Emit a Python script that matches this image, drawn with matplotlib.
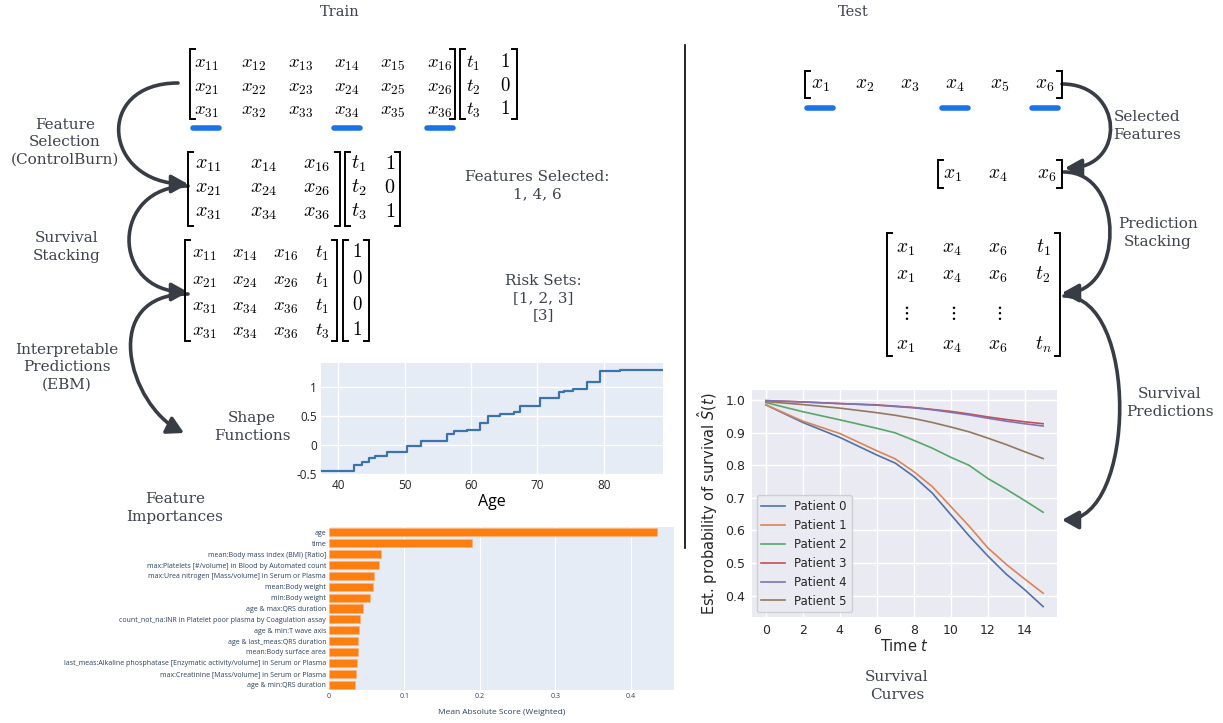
import matplotlib.pyplot as plt
from matplotlib.patches import FancyArrowPatch
from matplotlib.path import Path

W, H = 1223, 723

# ---------------- data ----------------
# train matrices
train_full = [["x_{11}", "x_{12}", "x_{13}", "x_{14}", "x_{15}", "x_{16}"],
              ["x_{21}", "x_{22}", "x_{23}", "x_{24}", "x_{25}", "x_{26}"],
              ["x_{31}", "x_{32}", "x_{33}", "x_{34}", "x_{35}", "x_{36}"]]
train_target = [["t_1", "1"], ["t_2", "0"], ["t_3", "1"]]
selected_cols = [0, 3, 5]
train_sel = [["x_{11}", "x_{14}", "x_{16}"],
             ["x_{21}", "x_{24}", "x_{26}"],
             ["x_{31}", "x_{34}", "x_{36}"]]
train_stack = [["x_{11}", "x_{14}", "x_{16}", "t_1"],
               ["x_{21}", "x_{24}", "x_{26}", "t_1"],
               ["x_{31}", "x_{34}", "x_{36}", "t_1"],
               ["x_{31}", "x_{34}", "x_{36}", "t_3"]]
train_stack_y = [["1"], ["0"], ["0"], ["1"]]

# test matrices
test_full = [["x_1", "x_2", "x_3", "x_4", "x_5", "x_6"]]
test_sel = [["x_1", "x_4", "x_6"]]
test_stack = [["x_1", "x_4", "x_6", "t_1"],
              ["x_1", "x_4", "x_6", "t_2"],
              [r"\vdots", r"\vdots", r"\vdots", ""],
              ["x_1", "x_4", "x_6", "t_n"]]

# shape function (age)
shape_age = [36.0, 42.4, 43.6, 44.6, 45.6, 47.4, 50.4, 52.4, 56.4, 57.4, 59.4, 61.4,
             62.5, 64.4, 66.4, 67.4, 70.4, 73.3, 74.0, 75.4, 77.4, 79.4, 82.4, 90.0]
shape_score = [-0.445, -0.347, -0.30, -0.22, -0.185, -0.127, -0.01, 0.07, 0.196, 0.243,
               0.26, 0.38, 0.50, 0.537, 0.566, 0.67, 0.81, 0.913, 0.93, 0.97, 1.087,
               1.29, 1.30, 1.30]

# feature importances
feat_names = ["age", "time", "mean:Body mass index (BMI) [Ratio]",
              "max:Platelets [#/volume] in Blood by Automated count",
              "max:Urea nitrogen [Mass/volume] in Serum or Plasma",
              "mean:Body weight", "min:Body weight", "age & max:QRS duration",
              "count_not_na:INR in Platelet poor plasma by Coagulation assay",
              "age & min:T wave axis", "age & last_meas:QRS duration",
              "mean:Body surface area",
              "last_meas:Alkaline phosphatase [Enzymatic activity/volume] in Serum or Plasma",
              "max:Creatinine [Mass/volume] in Serum or Plasma", "age & min:QRS duration"]
feat_imp = [0.434, 0.190, 0.0684, 0.066, 0.060, 0.058, 0.0543, 0.0446, 0.0415,
            0.0402, 0.0389, 0.038, 0.0371, 0.0358, 0.0349]

# survival curves
surv_t = [0, 2, 4, 6, 7, 8, 9, 10, 11, 12, 13, 14, 15]
surv_p0 = [0.986, 0.932, 0.886, 0.832, 0.807, 0.766, 0.715, 0.649, 0.583, 0.522, 0.466, 0.418, 0.366]
surv_p1 = [0.986, 0.936, 0.898, 0.845, 0.820, 0.781, 0.735, 0.674, 0.613, 0.547, 0.496, 0.451, 0.407]
surv_p2 = [0.993, 0.965, 0.940, 0.914, 0.900, 0.877, 0.853, 0.825, 0.800, 0.760, 0.727, 0.692, 0.656]
surv_p3 = [0.999, 0.995, 0.990, 0.986, 0.982, 0.978, 0.972, 0.966, 0.958, 0.949, 0.941, 0.934, 0.928]
surv_p4 = [0.999, 0.995, 0.990, 0.985, 0.981, 0.977, 0.971, 0.963, 0.955, 0.945, 0.936, 0.928, 0.921]
surv_p5 = [0.996, 0.987, 0.976, 0.962, 0.954, 0.944, 0.932, 0.918, 0.903, 0.884, 0.864, 0.842, 0.821]
surv_names = ["Patient 0", "Patient 1", "Patient 2", "Patient 3", "Patient 4", "Patient 5"]
surv_colors = ["#4c72b0", "#dd8452", "#55a868", "#c44e52", "#8172b3", "#937860"]

TXT = "#3d424c"
ARROW = "#373c45"
BLUE = "#1a73e8"

fig = plt.figure(figsize=(W / 100, H / 100), dpi=100)
fig.patch.set_facecolor("white")


def px_axes(x0, y0, x1, y1):
    return fig.add_axes([x0 / W, 1 - y1 / H, (x1 - x0) / W, (y1 - y0) / H])


# ---------------- shape function ----------------
ax_s = px_axes(321, 363, 663, 475)
ax_s.set_facecolor("#e5ecf6")
ax_s.step(shape_age, shape_score, where="post", color="#3b73af", lw=1.6)
ax_s.set_xlim(37.4, 88.9)
ax_s.set_ylim(-0.52, 1.42)
ax_s.set_xticks([40, 50, 60, 70, 80])
ax_s.set_yticks([-0.5, 0, 0.5, 1], ["-0.5", "0", "0.5", "1"])
ax_s.grid(color="white", lw=1)
ax_s.set_axisbelow(True)
for sp in ax_s.spines.values():
    sp.set_visible(False)
ax_s.tick_params(length=0, labelsize=8.5, colors="#222222", pad=3)
for lab in ax_s.get_xticklabels() + ax_s.get_yticklabels():
    lab.set_family("Open Sans")
ax_s.set_xlabel("Age", fontsize=11.5, family="Open Sans", labelpad=1)

# ---------------- feature importances ----------------
ax_f = px_axes(329, 527, 674, 690)
ax_f.set_facecolor("#e5ecf6")
ax_f.barh(range(len(feat_imp)), feat_imp, height=0.74, color="#ff7f0e",
          edgecolor="#ffb27a", lw=0.4)
ax_f.set_ylim(len(feat_imp) - 0.5, -0.5)
ax_f.set_xlim(0, 0.457)
ax_f.set_xticks([0, 0.1, 0.2, 0.3, 0.4], ["0", "0.1", "0.2", "0.3", "0.4"])
ax_f.set_yticks(range(len(feat_names)), feat_names)
ax_f.grid(axis="x", color="white", lw=0.8)
ax_f.set_axisbelow(True)
for sp in ax_f.spines.values():
    sp.set_visible(False)
ax_f.tick_params(length=0, labelsize=5, colors="#2a3f5f", pad=2)
for lab in ax_f.get_xticklabels() + ax_f.get_yticklabels():
    lab.set_family("Open Sans")
ax_f.set_xlabel("Mean Absolute Score (Weighted)", fontsize=6, color="#2a3f5f",
                family="Open Sans", labelpad=7)

# ---------------- survival curves ----------------
ax_c = px_axes(752, 390, 1057, 617)
ax_c.set_facecolor("#eaeaf2")
for vals, name, col in zip([surv_p0, surv_p1, surv_p2, surv_p3, surv_p4, surv_p5],
                           surv_names, surv_colors):
    ax_c.plot(surv_t, vals, color=col, lw=1.2, label=name)
ax_c.set_xlim(-0.75, 15.75)
ax_c.set_ylim(0.334, 1.0317)
ax_c.set_xticks(range(0, 15, 2))
ax_c.set_yticks([0.4, 0.5, 0.6, 0.7, 0.8, 0.9, 1.0])
ax_c.grid(color="white", lw=1)
ax_c.set_axisbelow(True)
for sp in ax_c.spines.values():
    sp.set_visible(False)
ax_c.tick_params(length=0, labelsize=9, colors="#262626", pad=5)
ax_c.set_xlabel("Time $t$", fontsize=10.5, color="#262626", labelpad=1)
ax_c.set_ylabel(r"Est. probability of survival $\hat{S}(t)$", fontsize=10.5,
                color="#262626", labelpad=4)
leg = ax_c.legend(loc="lower left", fontsize=8.5, facecolor="#eaeaf2",
                  edgecolor="#cccccc", framealpha=0.9, borderaxespad=0.4)
for t in leg.get_texts():
    t.set_color("#262626")

# ---------------- overlay: diagram ----------------
ov = fig.add_axes([0, 0, 1, 1])
ov.set_xlim(0, W)
ov.set_ylim(H, 0)
ov.axis("off")
ov.set_zorder(5)


def bracket(x, y0, y1, side, lw=1.4):
    s = 5 if side == "l" else -5
    ov.plot([x + s, x, x, x + s], [y0, y0, y1, y1], color="black", lw=lw,
            solid_joinstyle="miter")


def matrix(entries, xs, ys, left, right, top, bottom, size=13.5):
    bracket(left, top, bottom, "l")
    bracket(right, top, bottom, "r")
    for row, y in zip(entries, ys):
        for e, x in zip(row, xs):
            if not e:
                continue
            if "vdots" in e:
                ov.text(x, y, f"${e}$", ha="center", va="center", fontsize=size,
                        math_fontfamily="cm")
            else:
                ov.text(x, y + size * 0.33, f"${e}$", ha="center", va="baseline",
                        fontsize=size, math_fontfamily="cm")


def underline(xs, cols, y):
    for c in cols:
        ov.plot([xs[c] - 13, xs[c] + 13], [y, y], color=BLUE, lw=4,
                solid_capstyle="round")


# train
m1_x = [206, 254, 301, 347, 393, 440]
matrix(train_full, m1_x, [63, 87, 110], 190, 455, 49, 119)
matrix(train_target, [473, 505], [63, 87, 110], 460, 517, 49, 119)
underline(m1_x, selected_cols, 128)
matrix(train_sel, [208, 264, 317], [164, 188, 212], 188, 340, 152, 226, size=14.5)
matrix(train_target, [359, 390], [164, 188, 212], 345, 400, 152, 226, size=14.5)
matrix(train_stack, [204, 245, 286, 322], [253, 280, 306, 331], 185, 337, 240, 341)
matrix(train_stack_y, [357], [253, 280, 306, 331], 343, 369, 240, 341)

# test
t1_x = [820, 865, 910, 955, 1000, 1045]
matrix(test_full, t1_x, [84], 805, 1062, 71, 98, size=14)
underline(t1_x, selected_cols, 108)
matrix(test_sel, [952, 998, 1047], [174], 938, 1062, 160, 188, size=14)
matrix(test_stack, [905, 952, 998, 1043], [248, 275, 312, 345], 887, 1060, 233, 356,
       size=14)

# divider
ov.plot([685, 685], [45, 548], color="black", lw=1.2)

# labels
labels = [("Train", 340, 12, 10.5), ("Test", 853, 12, 10.5),
          ("Feature\nSelection\n(ControlBurn)", 65, 142, 11),
          ("Survival\nStacking", 67, 247, 11),
          ("Interpretable\nPredictions\n(EBM)", 67, 367, 11),
          ("Shape\nFunctions", 252, 427, 11),
          ("Feature\nImportances", 175, 508, 11),
          ("Features Selected:\n1, 4, 6", 537, 186, 11),
          ("Risk Sets:\n[1, 2, 3]\n[3]", 543, 298, 11),
          ("Selected\nFeatures", 1147, 126, 11),
          ("Prediction\nStacking", 1158, 233, 11),
          ("Survival\nPredictions", 1170, 403, 11),
          ("Survival\nCurves", 897, 686, 11)]
for txt, x, y, fs in labels:
    ov.text(x, y, txt, ha="center", va="center", fontsize=fs, color=TXT,
            family="DejaVu Serif", linespacing=1.3)


# curved arrows (cubic bezier)
def curved_arrow(p0, c1, c2, p1):
    path = Path([p0, c1, c2, p1], [Path.MOVETO, Path.CURVE4, Path.CURVE4, Path.CURVE4])
    ov.add_patch(FancyArrowPatch(path=path, arrowstyle="-|>,head_length=0.9,head_width=0.5",
                                 mutation_scale=11, lw=2.6, color=ARROW))


curved_arrow((178, 83), (93, 83), (103, 184), (188, 184))
curved_arrow((188, 186), (110, 186), (110, 292), (188, 292))
curved_arrow((188, 294), (98, 294), (128, 405), (184, 433))
curved_arrow((1062, 84), (1124, 84), (1127, 168), (1065, 168))
curved_arrow((1064, 172), (1126, 172), (1124, 293), (1062, 293))
curved_arrow((1064, 296), (1139, 296), (1137, 520), (1062, 520))

fig.savefig("out.png", dpi=100)
